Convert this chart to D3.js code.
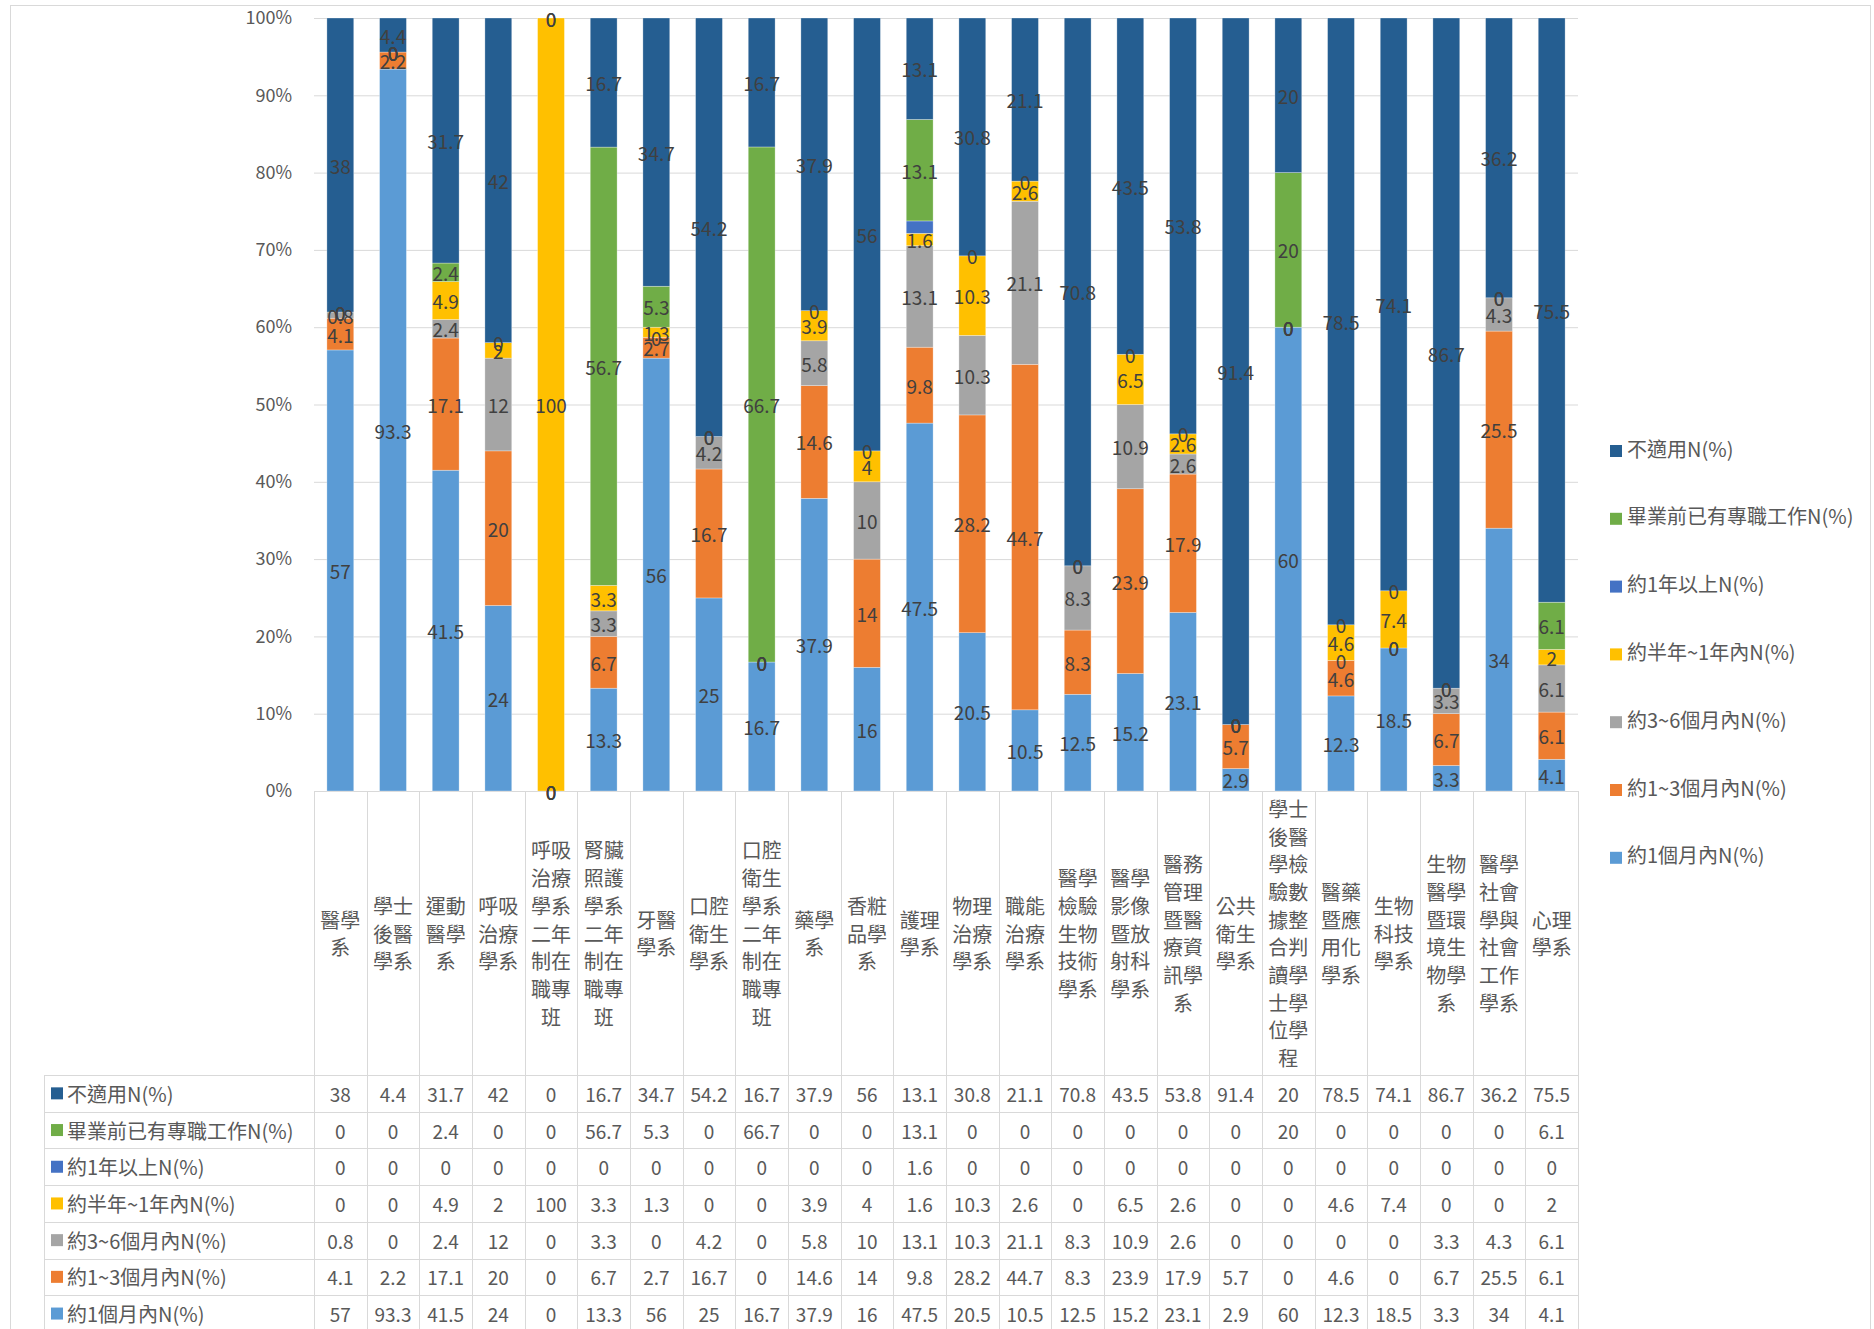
<!DOCTYPE html>
<html><head><meta charset="utf-8">
<script src="https://cdn.jsdelivr.net/npm/d3@7"></script>
<style>
body{margin:0;background:#fff;}
text{font-family:"Noto Sans CJK TC","Noto Sans",sans-serif;}
</style>
</head><body>
<svg id="c" width="1874" height="1329"></svg>
<script>
const categories = ["醫學系","學士後醫學系","運動醫學系","呼吸治療學系","呼吸治療學系二年制在職專班","腎臟照護學系二年制在職專班","牙醫學系","口腔衛生學系","口腔衛生學系二年制在職專班","藥學系","香粧品學系","護理學系","物理治療學系","職能治療學系","醫學檢驗生物技術學系","醫學影像暨放射科學系","醫務管理暨醫療資訊學系","公共衛生學系","學士後醫學檢驗數據整合判讀學士學位學程","醫藥暨應用化學系","生物科技學系","生物醫學暨環境生物學系","醫學社會學與社會工作學系","心理學系"];

const seriesNames = ["不適用N(%)","畢業前已有專職工作N(%)","約1年以上N(%)","約半年~1年內N(%)","約3~6個月內N(%)","約1~3個月內N(%)","約1個月內N(%)"];

const notApplicable = [38,4.4,31.7,42,0,16.7,34.7,54.2,16.7,37.9,56,13.1,30.8,21.1,70.8,43.5,53.8,91.4,20,78.5,74.1,86.7,36.2,75.5];
const jobBeforeGrad = [0,0,2.4,0,0,56.7,5.3,0,66.7,0,0,13.1,0,0,0,0,0,0,20,0,0,0,0,6.1];
const overOneYear = [0,0,0,0,0,0,0,0,0,0,0,1.6,0,0,0,0,0,0,0,0,0,0,0,0];
const halfToOneYear = [0,0,4.9,2,100,3.3,1.3,0,0,3.9,4,1.6,10.3,2.6,0,6.5,2.6,0,0,4.6,7.4,0,0,2];
const threeToSixMonths = [0.8,0,2.4,12,0,3.3,0,4.2,0,5.8,10,13.1,10.3,21.1,8.3,10.9,2.6,0,0,0,0,3.3,4.3,6.1];
const oneToThreeMonths = [4.1,2.2,17.1,20,0,6.7,2.7,16.7,0,14.6,14,9.8,28.2,44.7,8.3,23.9,17.9,5.7,0,4.6,0,6.7,25.5,6.1];
const withinOneMonth = [57,93.3,41.5,24,0,13.3,56,25,16.7,37.9,16,47.5,20.5,10.5,12.5,15.2,23.1,2.9,60,12.3,18.5,3.3,34,4.1];

const seriesColors = ["#255E91","#70AD47","#4472C4","#FFC000","#A5A5A5","#ED7D31","#5B9BD5"];
// series whose data labels are shown in the bars (約1年以上 has none in the original)
const labelledSeries = ["不適用N(%)","畢業前已有專職工作N(%)","約半年~1年內N(%)","約3~6個月內N(%)","約1~3個月內N(%)","約1個月內N(%)"];
const yTicks = [0,0.1,0.2,0.3,0.4,0.5,0.6,0.7,0.8,0.9,1];

// ---------------------------------------------------------------
const seriesValues = [notApplicable, jobBeforeGrad, overOneYear, halfToOneYear, threeToSixMonths, oneToThreeMonths, withinOneMonth];
const rows = categories.map((c,i)=>{
  const o = {cat:c};
  seriesNames.forEach((s,k)=>{ o[s] = seriesValues[k][i]; });
  return o;
});
const stackKeys = seriesNames.slice().reverse(); // bottom-up
const colorOf = d3.scaleOrdinal().domain(seriesNames).range(seriesColors);

const svg = d3.select("#c");
const plot = {left:314, right:1578, top:18, bottom:791};
const tableTop = 1075, rowH = 36.7, tableLeft = 44;
const font = '"Noto Sans CJK TC","Noto Sans",sans-serif';
const txt = "#595959";

svg.append("rect").attr("x",10.5).attr("y",5.5).attr("width",1860).attr("height",1340)
  .attr("fill","none").attr("stroke","#D9D9D9");

const x = d3.scaleBand().domain(categories).range([plot.left, plot.right]).padding(0);
const y = d3.scaleLinear().domain([0,1]).range([plot.bottom, plot.top]);
const bw = x.bandwidth();
const barW = bw*0.51, barOff = (bw-barW)/2;

// gridlines
svg.append("g").attr("transform",`translate(${plot.left},0)`)
  .call(d3.axisLeft(y).tickValues(yTicks).tickSize(-(plot.right-plot.left)).tickFormat(""))
  .call(g=>g.select(".domain").remove())
  .call(g=>g.selectAll("line").attr("stroke","#D9D9D9").attr("stroke-width",1));

// y labels
svg.append("g").attr("transform",`translate(${plot.left},0)`)
  .call(d3.axisLeft(y).tickValues(yTicks).tickSize(0).tickPadding(22).tickFormat(d3.format(".0%")))
  .attr("font-family",font).attr("font-size",18)
  .call(g=>g.select(".domain").remove())
  .call(g=>g.selectAll("text").attr("fill",txt));

// bars
const stacked = d3.stack().keys(stackKeys).offset(d3.stackOffsetExpand)(rows);
const layers = svg.append("g").selectAll("g").data(stacked).join("g")
  .attr("fill",d=>colorOf(d.key));
layers.selectAll("rect").data(d=>d).join("rect")
  .attr("x",d=>x(d.data.cat)+barOff)
  .attr("width",barW)
  .attr("y",d=>y(d[1]))
  .attr("height",d=>Math.max(0,y(d[0])-y(d[1])))
  .attr("stroke","#ffffff").attr("stroke-opacity",0.5).attr("stroke-width",0.6);

// data labels
const lbl = svg.append("g").attr("font-family",font).attr("font-size",19).attr("fill","#404040")
  .attr("text-anchor","middle");
stacked.filter(l=>labelledSeries.includes(l.key)).forEach(layer=>{
  layer.forEach(d=>{
    lbl.append("text")
      .attr("x",x(d.data.cat)+bw/2)
      .attr("y",y((d[0]+d[1])/2))
      .attr("dominant-baseline","central")
      .text(String(d.data[layer.key]));
  });
});

// category header (wrapped, 2 chars per line)
const catG = svg.append("g").attr("font-family",font).attr("font-size",20).attr("fill",txt).attr("text-anchor","middle");
const lineH = 27.7, catCenter = (plot.bottom+tableTop)/2;
categories.forEach(c=>{
  const parts = [];
  for(let i=0;i<c.length;i+=2) parts.push(c.slice(i,i+2));
  const y0 = catCenter - (parts.length-1)/2*lineH;
  parts.forEach((p,j)=>{
    catG.append("text").attr("x",x(c)+bw/2).attr("y",y0+j*lineH)
      .attr("dominant-baseline","central").text(p);
  });
});

// table grid
const grid = svg.append("g").attr("stroke","#D9D9D9").attr("stroke-width",1);
for(let k=0;k<=seriesNames.length;k++){
  const yy = Math.round(tableTop+k*rowH)+0.5;
  grid.append("line").attr("x1",tableLeft).attr("x2",plot.right).attr("y1",yy).attr("y2",yy);
}
grid.append("line").attr("x1",tableLeft+0.5).attr("x2",tableLeft+0.5).attr("y1",tableTop).attr("y2",1340);
for(let j=0;j<=categories.length;j++){
  const xx = Math.round(plot.left+j*bw)+0.5;
  grid.append("line").attr("x1",xx).attr("x2",xx).attr("y1",plot.bottom).attr("y2",1340);
}

// table contents
const tab = svg.append("g").attr("font-family",font).attr("fill",txt);
seriesNames.forEach((s,k)=>{
  const cy = tableTop + k*rowH + rowH/2;
  tab.append("rect").attr("x",51).attr("y",cy-6).attr("width",12).attr("height",12).attr("fill",colorOf(s));
  tab.append("text").attr("x",67).attr("y",cy).attr("dominant-baseline","central").attr("font-size",20).text(s);
  categories.forEach((c,i)=>{
    tab.append("text").attr("x",x(c)+bw/2).attr("y",cy).attr("dominant-baseline","central")
      .attr("text-anchor","middle").attr("font-size",19).text(String(seriesValues[k][i]));
  });
});

// legend
const leg = svg.append("g").attr("font-family",font).attr("font-size",20).attr("fill",txt);
seriesNames.forEach((s,k)=>{
  const cy = 451 + k*67.8;
  leg.append("rect").attr("x",1610).attr("y",cy-6).attr("width",12).attr("height",12).attr("fill",colorOf(s));
  leg.append("text").attr("x",1627).attr("y",cy-3).attr("dominant-baseline","central").text(s);
});
</script>
</body></html>
